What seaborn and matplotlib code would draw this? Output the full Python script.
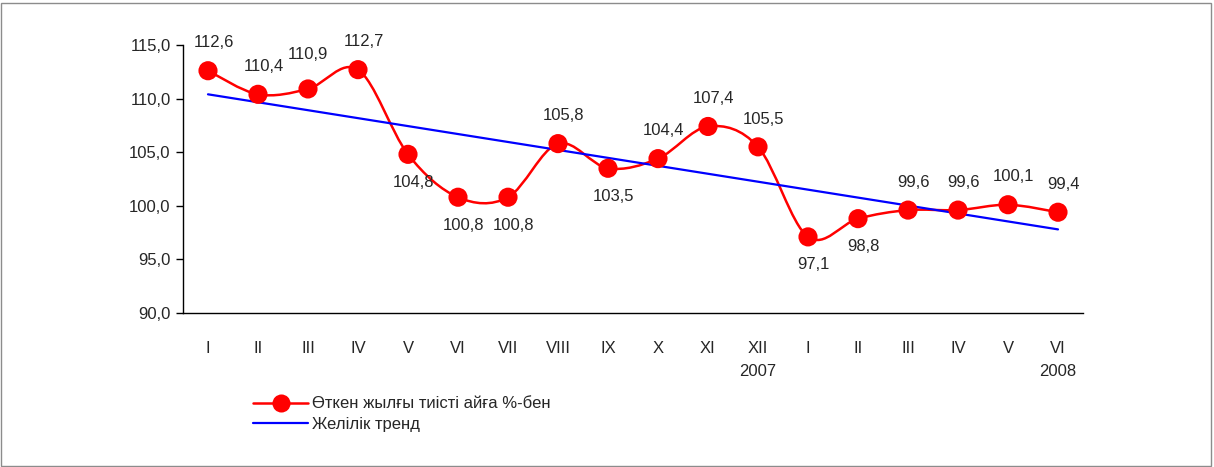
import numpy as np
import pandas as pd
import matplotlib
matplotlib.use('Agg')
import matplotlib.pyplot as plt
from matplotlib.path import Path
from matplotlib.patches import PathPatch, Rectangle
from matplotlib.lines import Line2D
import seaborn as sns

months = ['I', 'II', 'III', 'IV', 'V', 'VI', 'VII', 'VIII', 'IX', 'X', 'XI', 'XII',
          'I', 'II', 'III', 'IV', 'V', 'VI']
values = [112.6, 110.4, 110.9, 112.7, 104.8, 100.8, 100.8, 105.8, 103.5, 104.4,
          107.4, 105.5, 97.1, 98.8, 99.6, 99.6, 100.1, 99.4]
label_below = [False, False, False, False, True, True, True, False, True, False,
               False, False, True, True, False, False, False, False]
trend_ends = [110.4, 97.8]  # first and last month
years = {11: '2007', 17: '2008'}
series_name = 'Өткен жылғы тиісті айға %-бен'
trend_name = 'Желілік тренд'

sns.set_style('white')
plt.rcParams['font.family'] = ['Liberation Sans', 'DejaVu Sans']
plt.rcParams['font.size'] = 12

fig = plt.figure(figsize=(12.14, 4.67), dpi=100)
ax = fig.add_axes([183/1214, 1-313/467, 900/1214, 268/467])

df = pd.DataFrame({'x': np.arange(len(values)), 'v': values})
tdf = pd.DataFrame({'x': [0, len(values)-1], 'v': trend_ends})

# smoothed line (Excel-like bezier through the points)
pts = df[['x', 'v']].to_numpy(dtype=float)
ext = np.vstack([pts[0], pts, pts[-1]])
verts = [tuple(pts[0])]
codes = [Path.MOVETO]
for i in range(len(pts)-1):
    p0, p1, p2, p3 = ext[i], ext[i+1], ext[i+2], ext[i+3]
    c1 = p1 + (p2 - p0) / 6
    c2 = p2 - (p3 - p1) / 6
    verts += [tuple(c1), tuple(c2), tuple(p2)]
    codes += [Path.CURVE4] * 3
ax.add_patch(PathPatch(Path(verts, codes), fill=False, edgecolor='#ff0000', lw=1.8, zorder=2))

sns.lineplot(data=tdf, x='x', y='v', ax=ax, color='#0000ff', lw=1.6, zorder=3)
sns.scatterplot(data=df, x='x', y='v', ax=ax, color='#ff0000', s=190, edgecolor='none', zorder=4)

for i, v in enumerate(values):
    txt = f'{v:.1f}'.replace('.', ',')
    if label_below[i]:
        off = (4, -20)
    elif i == 2:
        off = (0, 25)
    else:
        off = (4, 20)
    ax.annotate(txt, (i, v), xytext=off, textcoords='offset points',
                ha='center', va='center', fontsize=12)

ax.set_xlim(-0.5, len(values)-0.5)
ax.set_ylim(90, 115)
ax.set_yticks(np.arange(90, 116, 5))
ax.set_yticklabels([f'{t:.1f}'.replace('.', ',') for t in np.arange(90, 116, 5)])
ax.set_xticks(np.arange(len(values)))
ax.set_xticklabels(months)
ax.set_xticks(np.arange(-0.5, len(values), 1), minor=True)
ax.tick_params(axis='x', which='major', length=0, pad=20)
ax.tick_params(axis='x', which='minor', length=5, width=1, color='black', direction='out')
ax.tick_params(axis='y', length=5, width=1, color='black', direction='out', left=True, pad=4)
ax.set_xlabel('')
ax.set_ylabel('')
for s in ['top', 'right']:
    ax.spines[s].set_visible(False)
for s in ['left', 'bottom']:
    ax.spines[s].set_color('black')
    ax.spines[s].set_linewidth(1)

for i, y in years.items():
    ax.text(i, -0.22, y, transform=ax.get_xaxis_transform(), ha='center', va='center', fontsize=12)

handles = [Line2D([], [], color='#ff0000', lw=1.8, marker='o', markersize=13, markeredgecolor='none'),
           Line2D([], [], color='#0000ff', lw=1.6)]
fig.legend(handles, [series_name, trend_name], loc='upper left',
           bbox_to_anchor=(245/1214, 1-388/467), frameon=False, fontsize=12,
           handlelength=3.3, handletextpad=0.25, labelspacing=0.35, borderpad=0)

fig.add_artist(Rectangle((1/1214, 1/467), 1210/1214, 463/467, transform=fig.transFigure,
                         fill=False, edgecolor='#8c8c8c', lw=1))

fig.savefig('out.png', dpi=100)
